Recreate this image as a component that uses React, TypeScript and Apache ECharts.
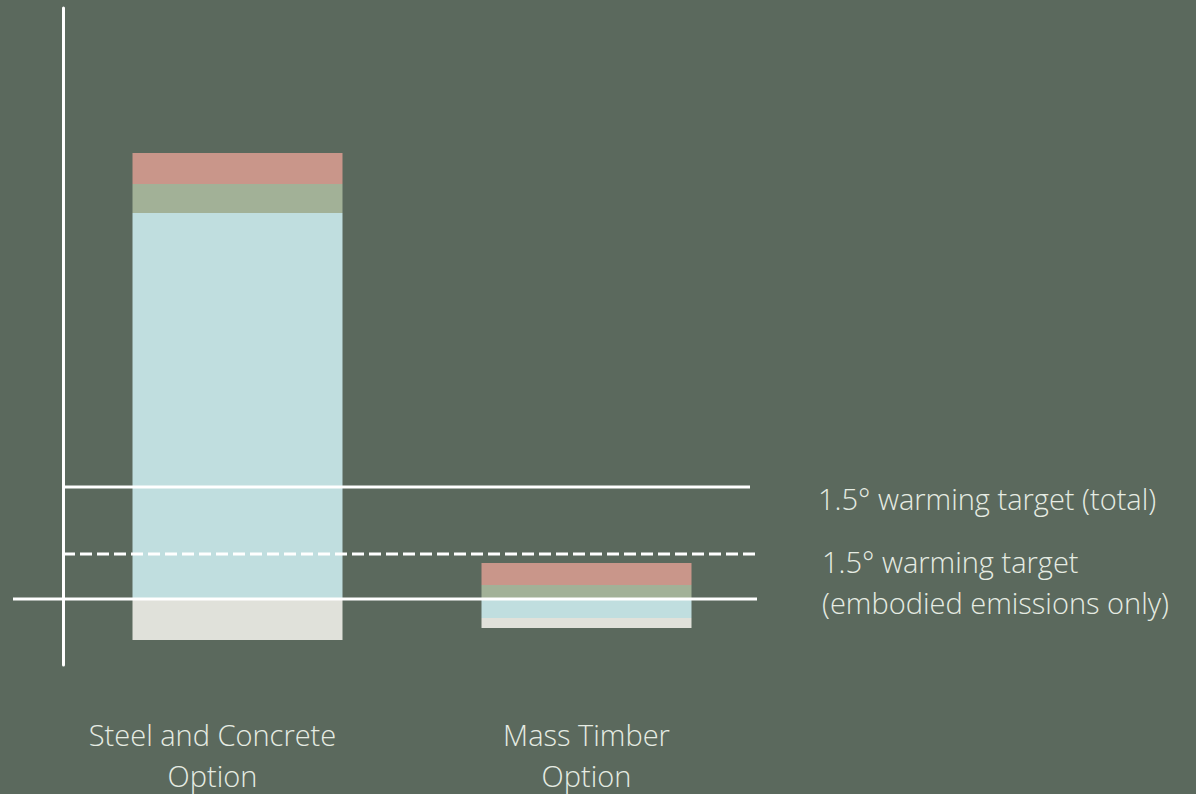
import React, { useEffect, useRef } from "react";
import * as echarts from "echarts";

const categories = ["Steel and Concrete\nOption", "Mass Timber\nOption"];
// stacked segments (arbitrary emission units)
const operational = [38.6, -1.9]; // light blue
const storage = [-4.1, -1.0]; // grey
const construction = [2.9, 1.4]; // green
const materials = [3.1, 2.2]; // red
const targetTotal = 11.2;
const targetEmbodied = 4.5;
const targetLabels = ["1.5° warming target (total)", "1.5° warming target\n(embodied emissions only)"];

const BG = "#5b695d";
const TXT = "#e6ece3";
const FONT = "'Open Sans', 'Noto Sans', sans-serif";

export default function App() {
  const ref = useRef<HTMLDivElement>(null);
  useEffect(() => {
    if (!ref.current) return;
    const chart = echarts.init(ref.current, undefined, { renderer: "svg" });
    const seriesBase = {
      type: "bar" as const,
      stack: "total",
      barWidth: 210,
      itemStyle: { borderWidth: 0 },
    };
    chart.setOption({
      animation: false,
      backgroundColor: BG,
      grid: { left: 63, right: 435, top: 8, bottom: 129, containLabel: false, outerBoundsMode: "none" },
      xAxis: {
        type: "category",
        data: [
          { value: categories[0], textStyle: { padding: [0, 50, 0, 0] } },
          { value: categories[1], textStyle: { padding: [0, 0, 0, 0] } },
        ],
        axisLine: { show: false },
        axisTick: { show: false },
        axisLabel: {
          color: TXT,
          fontFamily: FONT,
          fontSize: 29,
          fontWeight: 300,
          lineHeight: 41,
          margin: 49,
        },
      },
      yAxis: {
        type: "value",
        min: -6.6,
        max: 59.1,
        axisLine: { show: true, onZero: false, lineStyle: { color: "#ffffff", width: 3 } },
        axisTick: { show: false },
        axisLabel: { show: false },
        splitLine: { show: false },
      },
      series: [
        { ...seriesBase, name: "Operational", data: operational, itemStyle: { color: "#c0dedf" } },
        { ...seriesBase, name: "Storage", data: storage, itemStyle: { color: "#e0e1da" } },
        { ...seriesBase, name: "Construction", data: construction, itemStyle: { color: "#a2b197" } },
        { ...seriesBase, name: "Materials", data: materials, itemStyle: { color: "#c9968a" } },
      ],
    });
    const y0 = chart.convertToPixel({ yAxisIndex: 0 }, 0) as number;
    const yT = chart.convertToPixel({ yAxisIndex: 0 }, targetTotal) as number;
    const yE = chart.convertToPixel({ yAxisIndex: 0 }, targetEmbodied) as number;
    chart.setOption({
      graphic: [
        { type: "line", shape: { x1: 13, y1: y0, x2: 757, y2: y0 }, style: { stroke: "#ffffff", lineWidth: 3 }, z: 10 },
        { type: "line", shape: { x1: 63, y1: yT, x2: 750, y2: yT }, style: { stroke: "#ffffff", lineWidth: 3 }, z: 10 },
        { type: "line", shape: { x1: 63, y1: yE, x2: 757, y2: yE }, style: { stroke: "#ffffff", lineWidth: 3, lineDash: [12, 5] }, z: 10 },
        {
          type: "text", x: 818, y: yT + 11,
          style: { text: targetLabels[0], fill: TXT, font: `300 29px ${FONT}`, verticalAlign: "middle" },
        },
        {
          type: "text", x: 822, y: yE - 13,
          style: { text: targetLabels[1], fill: TXT, font: `300 29px ${FONT}`, lineHeight: 41, verticalAlign: "top" },
        },
      ],
    });
    return () => chart.dispose();
  }, []);
  return <div ref={ref} style={{ width: 1196, height: 794, position: "absolute", left: 0, top: 0 }} />;
}
